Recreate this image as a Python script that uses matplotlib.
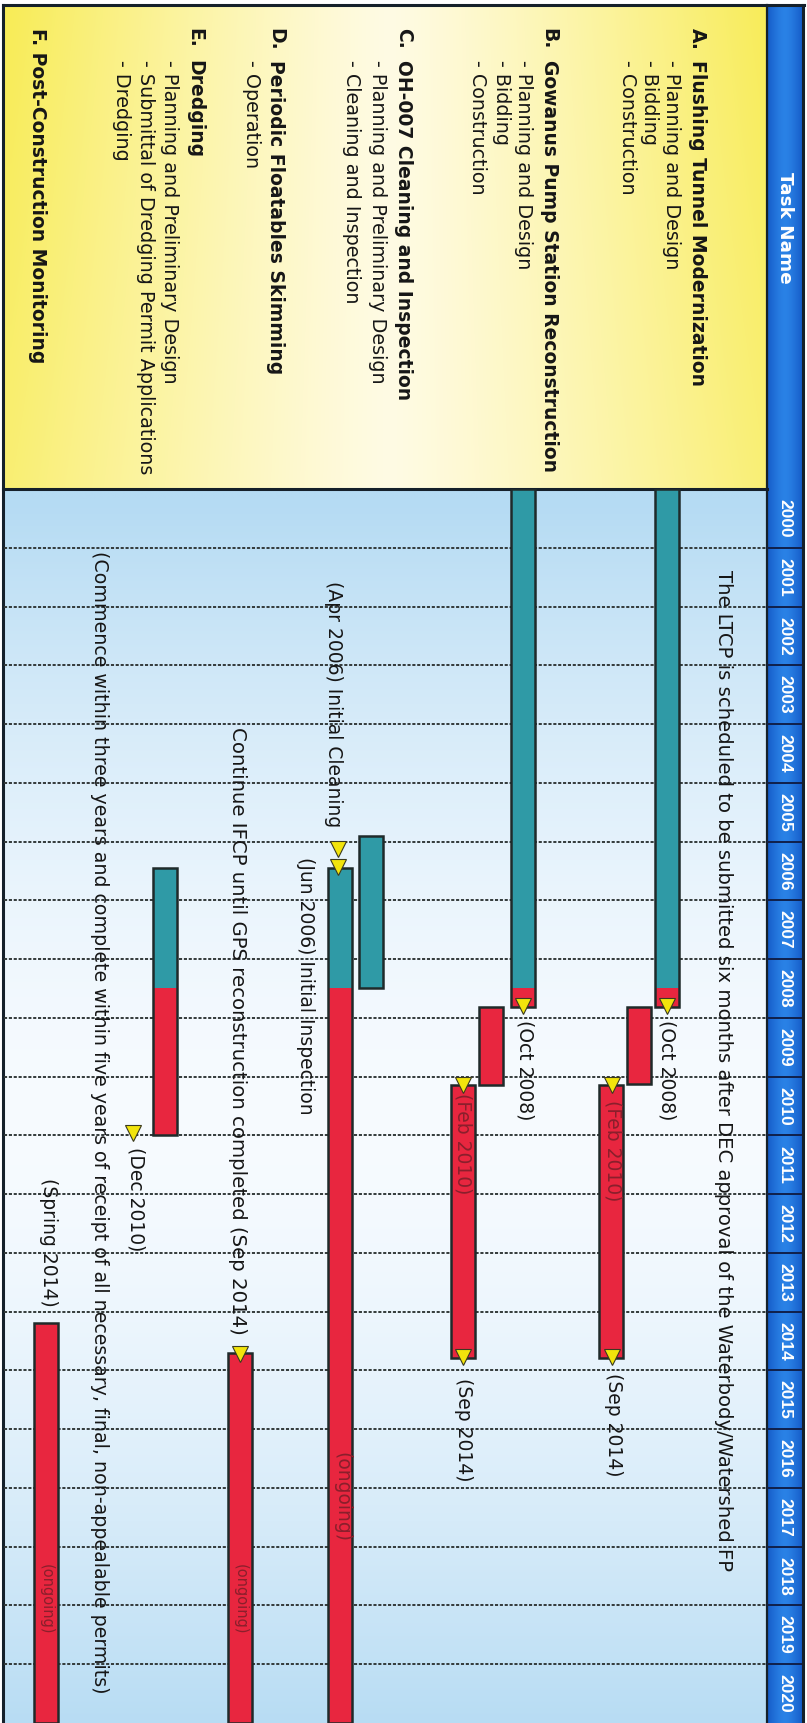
import numpy as np
import matplotlib
matplotlib.use("Agg")
import matplotlib.pyplot as plt
from matplotlib.colors import to_rgb

W, H = 807, 1723
TOP_Y = 489          # pixel row where the 2000 timeline starts

# ---------------- data ----------------
years = list(range(2000, 2021))
status_date = 2008.5  # teal = done up to here, red = still to do

task_letters = ["A.", "B.", "C.", "D.", "E.", "F."]
task_names = ["Flushing Tunnel Modernization",
              "Gowanus Pump Station Reconstruction",
              "OH-007 Cleaning and Inspection",
              "Periodic Floatables Skimming",
              "Dredging",
              "Post-Construction Monitoring"]
sub_tasks = [["Planning and Design", "Bidding", "Construction"],
             ["Planning and Design", "Bidding", "Construction"],
             ["Planning and Preliminary Design", "Cleaning and Inspection"],
             ["Operation"],
             ["Planning and Preliminary Design",
              "Submittal of Dredging Permit Applications", "Dredging"],
             []]

bar_names = ["A plan", "A bid", "A con", "B plan", "B bid", "B con",
             "C plan", "C clean", "D op", "E plan", "F mon"]
bar_start = [2000.0, 2008.82, 2010.15, 2000.0, 2008.82, 2010.15,
             2005.9, 2006.45, 2014.7, 2006.45, 2014.2]
bar_end = [2008.82, 2010.13, 2014.78, 2008.82, 2010.15, 2014.78,
           2008.5, 2021.0, 2021.0, 2010.99, 2021.0]

ms_dates = [2008.79, 2008.79, 2010.15, 2014.77, 2010.15, 2014.77,
            2006.12, 2006.44, 2014.72, 2010.96]

note_texts = ["The LTCP is scheduled to be submitted six months after DEC approval of the Waterbody/Watershed FP",
              "(Oct 2008)", "(Oct 2008)",
              "(Feb 2010)", "(Feb 2010)",
              "(Sep 2014)", "(Sep 2014)",
              "(Apr 2006) Initial Cleaning",
              "(Jun 2006) Initial Inspection",
              "Continue IFCP until GPS reconstruction completed (Sep 2014)",
              "(Commence within three years and complete within five years of receipt of all necessary, final, non-appealable permits)",
              "(Dec 2010)", "(Spring 2014)",
              "(ongoing)", "(ongoing)", "(ongoing)"]
note_dates = [2001.38, 2009.04, 2009.04, 2010.40, 2010.28, 2015.04, 2015.13,
              2005.75, 2006.26, 2014.40, 2001.05, 2011.20, 2013.92,
              2016.39, 2018.3, 2018.3]
note_anchor = ["start", "start", "start", "start", "start", "start", "start",
               "end", "start", "end", "start", "start", "end",
               "start", "start", "start"]

# ---------------- layout (pixel columns of the rotated chart) ----------------
LINE_X = [697, 672, 650, 628, 549, 524, 501, 478, 404, 377, 351,
          276, 252, 195, 170, 146, 121, 37]
BAR_X = [667, 639, 611, 523, 491, 463, 371, 340, 240, 165, 46]
MS_X = [667, 523, 612, 612, 463, 463, 338, 338, 240, 133]
NOTE_X = [723, 667, 525, 613, 463, 613, 463, 333, 306, 237, 100, 136, 48,
          342, 240, 46]
NOTE_IN_BAR = [False, False, False, True, True, False, False, False, False,
               False, False, False, False, True, True, True]
NOTE_SIZE = [14.1, 13.5, 13.5, 13.5, 13.5, 13.5, 13.5, 13.5, 13.5, 14.2,
             13.7, 13.5, 13.5, 13.5, 10.5, 10.5]

TEAL = "#2f9aa6"
RED = "#e8263f"
EDGE = "#1f2a2a"
TRI = "#f2e40c"
INK = "#161616"
BAR_W = 24
HDR_X0, HDR_X1 = 767, 802

fig = plt.figure(figsize=(W / 100, H / 100), dpi=100)

# background axes in pixel units
bg = fig.add_axes([0, 0, 1, 1])
bg.set_xlim(0, W); bg.set_ylim(H, 0); bg.axis("off")


def panel(x0, x1, y0, y1, c_edge, c_mid, weight):
    xs = np.linspace(x0, x1, 300); ys = np.linspace(y0, y1, 300)
    X, Y = np.meshgrid(xs, ys)
    w = weight(X, Y)[..., None]
    img = np.array(to_rgb(c_mid)) * (1 - w) + np.array(to_rgb(c_edge)) * w
    bg.imshow(img, extent=(x0, x1, y1, y0), origin="upper", aspect="auto",
              interpolation="bilinear", zorder=0)


# yellow task-name panel
panel(3, HDR_X0, 5, TOP_Y, "#f8ec58", "#fffbe4",
      lambda X, Y: np.clip(np.abs(X - 390) / 380, 0, 1) ** 1.2 * (1 - 0.2 * (Y - 5) / 484))
# light blue timeline panel
panel(3, HDR_X0, TOP_Y, H, "#b5dbf3", "#f7fbff",
      lambda X, Y: np.clip(np.abs(Y - 1120) / 620, 0, 1) ** 1.6)
# blue header column
panel(HDR_X0, HDR_X1, 5, H, "#1459c6", "#2a82e6",
      lambda X, Y: np.clip(np.abs(X - 785) / 18, 0, 1) ** 1.5)

# borders
bg.plot([3, HDR_X1 + 2], [5, 5], color="#15202a", lw=2.2, zorder=5)
bg.plot([3, 3], [5, H], color="#15202a", lw=2.2, zorder=5)
bg.plot([3, HDR_X0], [TOP_Y, TOP_Y], color="#15202a", lw=2.2, zorder=5)
bg.plot([HDR_X0, HDR_X0], [5, H], color="#15202a", lw=1.6, zorder=5)
bg.plot([HDR_X1 + 1, HDR_X1 + 1], [5, H], color="#15202a", lw=2.2, zorder=5)

# task name column
bg.text(785, 228, "Task Name", rotation=-90, rotation_mode="anchor",
        ha="center", va="center", color="white", fontsize=13.2,
        fontweight="bold", zorder=6)
k = 0
for letter, name, subs in zip(task_letters, task_names, sub_tasks):
    x = LINE_X[k]
    if subs or letter != "F.":
        bg.text(x, 28, letter, rotation=-90, rotation_mode="anchor", ha="left",
                va="center", color=INK, fontsize=13.5, fontweight="bold", zorder=6)
        bg.text(x, 60, name, rotation=-90, rotation_mode="anchor", ha="left",
                va="center", color=INK, fontsize=13.5, fontweight="bold", zorder=6)
    else:
        bg.text(x, 28, f"{letter} {name}", rotation=-90, rotation_mode="anchor",
                ha="left", va="center", color=INK, fontsize=13.5,
                fontweight="bold", zorder=6)
    k += 1
    for s in subs:
        bg.text(LINE_X[k], 60, f"- {s}", rotation=-90, rotation_mode="anchor",
                ha="left", va="center", color=INK, fontsize=13.8, zorder=6)
        k += 1

# timeline axes: x in pixel columns, y in years (2000 at top)
ax = fig.add_axes([0, 0, 1, (H - TOP_Y) / H])
ax.set_xlim(0, W); ax.set_ylim(2021, 2000)
ax.patch.set_alpha(0); ax.axis("off")

# year grid + header cells
ax.hlines(years[1:], 4, HDR_X0, colors="#333a3a", lw=1.4,
          linestyles=(0, (1.6, 0.9)), zorder=1)
ax.hlines(years[1:], HDR_X0, HDR_X1, colors="#10204a", lw=1.4, zorder=2)
for yr in years:
    ax.text(785, yr + 0.5, str(yr), rotation=-90, rotation_mode="anchor",
            ha="center", va="center", color="white", fontsize=12.5,
            fontweight="bold", family="Liberation Sans", zorder=3)

# bars: teal part up to the status date, red part after it
for x, s, e in zip(BAR_X, bar_start, bar_end):
    if s < status_date:
        ax.bar(x, min(e, status_date) - s, bottom=s, width=BAR_W,
               color=TEAL, lw=0, zorder=3)
    if e > status_date:
        ax.bar(x, e - max(s, status_date), bottom=max(s, status_date),
               width=BAR_W, color=RED, lw=0, zorder=3)
    ax.bar(x, e - s, bottom=s, width=BAR_W, facecolor="none",
           edgecolor=EDGE, lw=1.8, zorder=4)

# milestones
ax.plot(MS_X, ms_dates, ls="none", marker="v", ms=11, mfc=TRI,
        mec="#3a3a20", mew=0.8, zorder=6)

# notes
for txt, d, anc, x, inbar, fs in zip(note_texts, note_dates, note_anchor,
                                     NOTE_X, NOTE_IN_BAR, NOTE_SIZE):
    ax.text(x, d, txt, rotation=-90, rotation_mode="anchor",
            ha="left" if anc == "start" else "right", va="center",
            color="#8a1f2c" if inbar else INK, fontsize=fs, zorder=5)

fig.savefig("out.png", dpi=100)
